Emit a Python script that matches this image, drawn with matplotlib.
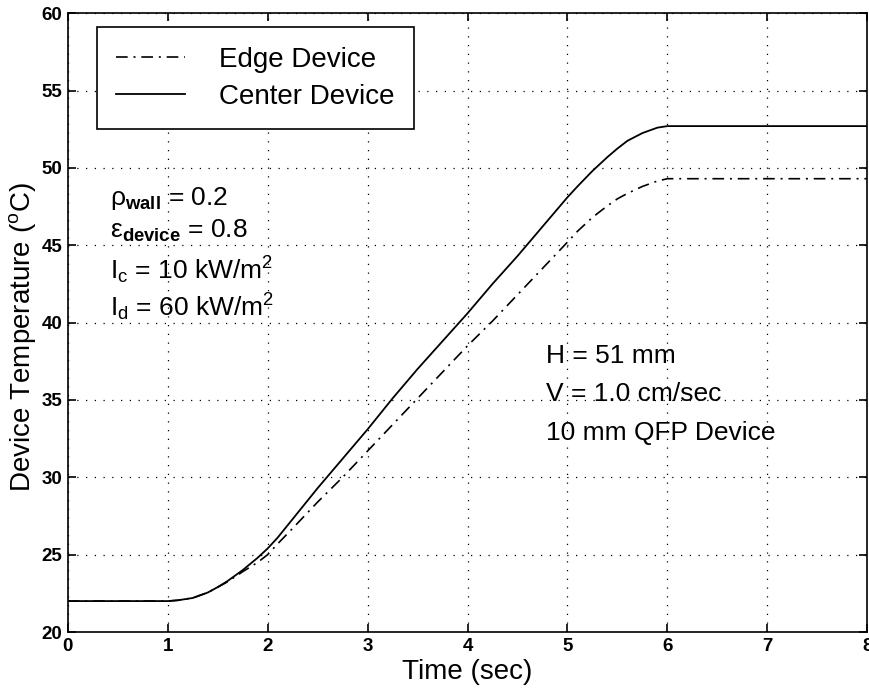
import matplotlib
matplotlib.use('Agg')
import matplotlib.pyplot as plt

# values
time_s = [0.0, 0.5, 1.0, 1.1, 1.25, 1.4, 1.5, 1.6, 1.75, 1.9, 2.0, 2.1, 2.25, 2.5, 2.75,
          3.0, 3.25, 3.5, 3.75, 4.0, 4.25, 4.5, 4.75, 5.0, 5.1, 5.25, 5.4, 5.5, 5.6,
          5.75, 5.9, 6.0, 6.5, 7.0, 7.5, 8.0]
center_temp = [22.0, 22.0, 22.0, 22.05, 22.2, 22.55, 22.9, 23.3, 24.0, 24.8, 25.4, 26.1, 27.3,
               29.3, 31.2, 33.1, 35.1, 37.0, 38.8, 40.6, 42.5, 44.3, 46.2, 48.1, 48.8, 49.8,
               50.7, 51.25, 51.75, 52.25, 52.6, 52.7, 52.7, 52.7, 52.7, 52.7]
edge_temp = [22.0, 22.0, 22.0, 22.05, 22.2, 22.55, 22.9, 23.25, 23.9, 24.5, 25.0, 25.7, 26.7,
             28.4, 30.0, 31.7, 33.4, 35.1, 36.8, 38.5, 40.1, 41.8, 43.5, 45.2, 45.9, 46.8,
             47.55, 48.0, 48.35, 48.8, 49.15, 49.3, 49.3, 49.3, 49.3, 49.3]

xticks = list(range(0, 9))
yticks = list(range(20, 61, 5))

plt.rcParams['font.family'] = ['Liberation Sans', 'DejaVu Sans']
plt.rcParams['mathtext.fontset'] = 'custom'
plt.rcParams['mathtext.rm'] = 'Liberation Sans'
plt.rcParams['mathtext.bf'] = 'Liberation Sans:bold'
plt.rcParams['mathtext.it'] = 'Liberation Sans:italic'

fig = plt.figure(figsize=(8.69, 6.93), dpi=100, facecolor='w')
ax = fig.add_axes([0.078, 0.088, 0.92, 0.893])

ax.plot(time_s, edge_temp, color='k', lw=1.2, linestyle=(0, (7, 3.5, 1.2, 3.5)), label='Edge Device')
ax.plot(time_s, center_temp, color='k', lw=1.3, linestyle='-', label='Center Device')

ax.set_xlim(0, 8)
ax.set_ylim(20, 60)
ax.set_xticks(xticks)
ax.set_yticks(yticks)
ax.tick_params(direction='in', top=True, right=True, length=6, width=1.2, labelsize=13.5, pad=4)
for lbl in ax.get_xticklabels() + ax.get_yticklabels():
    lbl.set_fontweight('bold')
ax.grid(True, color='k', linestyle=(0, (1, 6)), linewidth=0.9)
for sp in ax.spines.values():
    sp.set_linewidth(1.2)

ax.set_xlabel('Time (sec)', fontsize=20)
ax.set_ylabel(r'Device Temperature ($^{\rm o}$C)', fontsize=20)
ax.xaxis.set_label_coords(0.5, -0.044)
ax.yaxis.set_label_coords(-0.037, 0.477)

leg = ax.legend(loc='upper left', bbox_to_anchor=(0.036, 0.977), fontsize=20,
                fancybox=False, framealpha=1, edgecolor='k', handlelength=2.5,
                handletextpad=1.2, borderpad=0.7, labelspacing=0.4, borderaxespad=0)
leg.get_frame().set_linewidth(1.2)

kw = dict(fontsize=19, ha='left', va='baseline')
ax.text(0.42, 47.6, r'ρ$_{\bf wall}$ = 0.2', **kw)
ax.text(0.42, 45.5, r'ε$_{\bf device}$ = 0.8', **kw)
ax.text(0.42, 42.8, r'I$_{\rm c}$ = 10 kW/m$^2$', **kw)
ax.text(0.42, 40.4, r'I$_{\rm d}$ = 60 kW/m$^2$', **kw)

ax.text(4.79, 37.4, 'H = 51 mm', **kw)
ax.text(4.79, 34.9, 'V = 1.0 cm/sec', **kw)
ax.text(4.79, 32.4, '10 mm QFP Device', **kw)

fig.savefig('out.png', dpi=100)
plt.close(fig)
